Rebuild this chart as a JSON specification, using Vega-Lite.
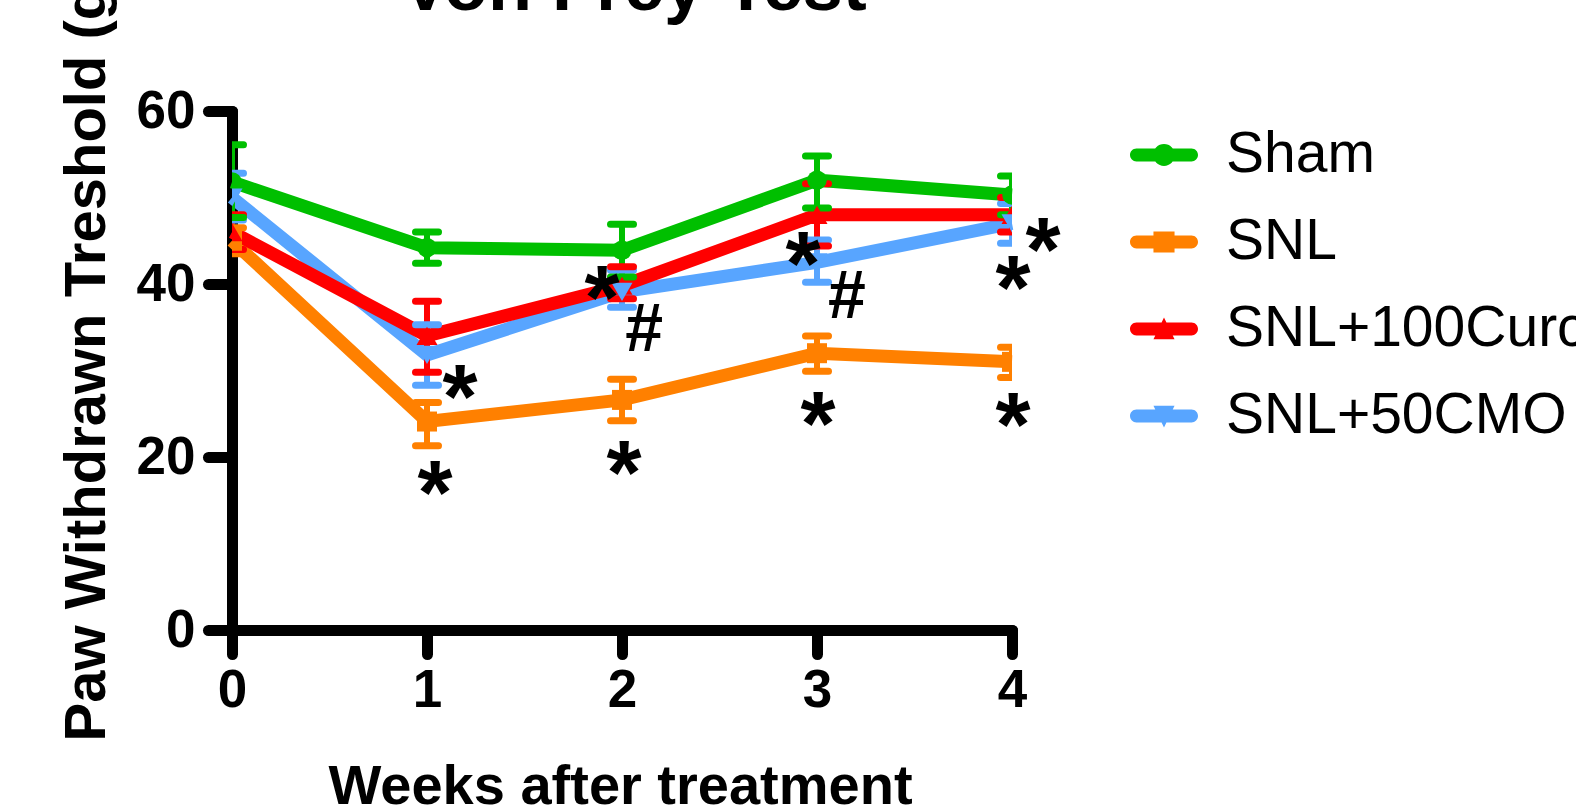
{
  "$schema": "https://vega.github.io/schema/vega-lite/v6.json",
  "width": 780,
  "height": 519,
  "autosize": {"type": "none"},
  "padding": {"left": 232, "top": 111, "right": 564, "bottom": 179},
  "background": "white",
  "title": {"text": "Von Frey Test", "fontSize": 72, "font": "Liberation Sans", "fontWeight": "bold", "anchor": "middle", "frame": "group", "color": "black", "baseline": "alphabetic", "offset": 0, "dy": 117, "dx": 12},
  "config": {
    "view": {"stroke": null},
    "axis": {
      "domainColor": "black", "domainWidth": 11, "domainCap": "round",
      "tickColor": "black", "tickWidth": 11, "tickSize": 24, "tickCap": "round",
      "labelFont": "Liberation Sans", "labelFontWeight": "bold", "labelFontSize": 53, "labelColor": "black",
      "labelFlush": false, "labelOverlap": false, "labelBound": false,
      "titleFont": "Liberation Sans", "titleFontWeight": "bold", "titleFontSize": 56, "titleColor": "black",
      "grid": false, "zindex": 1
    },
    "legend": {
      "labelFont": "Liberation Sans", "labelFontSize": 57, "labelColor": "black", "labelFontWeight": "normal",
      "labelOffset": 28, "rowPadding": 25, "padding": 0, "symbolSize": 4624,
      "symbolStrokeWidth": 0, "symbolOpacity": 1, "labelLimit": 2000
    }
  },
  "datasets": {
    "means": [
      {"group": "SNL+50CMO", "week": 0, "mean": 50.0, "lo": 47.4, "hi": 52.8},
      {"group": "SNL+50CMO", "week": 1, "mean": 31.8, "lo": 28.3, "hi": 35.3},
      {"group": "SNL+50CMO", "week": 2, "mean": 39.1, "lo": 37.3, "hi": 41.6},
      {"group": "SNL+50CMO", "week": 3, "mean": 42.5, "lo": 40.2, "hi": 45.1},
      {"group": "SNL+50CMO", "week": 4, "mean": 47.0, "lo": 44.7, "hi": 49.3},
      {"group": "SNL", "week": 0, "mean": 45.0, "lo": 43.5, "hi": 46.5},
      {"group": "SNL", "week": 1, "mean": 24.1, "lo": 21.3, "hi": 26.3},
      {"group": "SNL", "week": 2, "mean": 26.6, "lo": 24.2, "hi": 29.0},
      {"group": "SNL", "week": 3, "mean": 32.0, "lo": 29.9, "hi": 34.0},
      {"group": "SNL", "week": 4, "mean": 31.0, "lo": 29.2, "hi": 32.7},
      {"group": "SNL+100Curc", "week": 0, "mean": 46.0, "lo": 44.0, "hi": 48.0},
      {"group": "SNL+100Curc", "week": 1, "mean": 34.0, "lo": 29.8, "hi": 38.0},
      {"group": "SNL+100Curc", "week": 2, "mean": 39.8, "lo": 38.3, "hi": 42.0},
      {"group": "SNL+100Curc", "week": 3, "mean": 48.0, "lo": 44.4, "hi": 51.6},
      {"group": "SNL+100Curc", "week": 4, "mean": 48.0, "lo": 46.0, "hi": 50.0},
      {"group": "Sham", "week": 0, "mean": 51.8, "lo": 47.7, "hi": 56.1},
      {"group": "Sham", "week": 1, "mean": 44.2, "lo": 42.4, "hi": 46.0},
      {"group": "Sham", "week": 2, "mean": 43.9, "lo": 40.8, "hi": 46.9},
      {"group": "Sham", "week": 3, "mean": 52.0, "lo": 48.8, "hi": 54.8},
      {"group": "Sham", "week": 4, "mean": 50.3, "lo": 48.0, "hi": 52.5}
    ],
    "notes": [
      {"label": "*", "week": 1.041, "value": 18.3},
      {"label": "*", "week": 1.169, "value": 29.4},
      {"label": "*", "week": 1.897, "value": 40.8},
      {"label": "*", "week": 2.010, "value": 20.6},
      {"label": "*", "week": 2.928, "value": 44.7},
      {"label": "*", "week": 3.005, "value": 26.2},
      {"label": "*", "week": 4.159, "value": 46.4},
      {"label": "*", "week": 4.005, "value": 42.0},
      {"label": "*", "week": 4.005, "value": 26.1},
      {"label": "#", "week": 2.113, "value": 35.0},
      {"label": "#", "week": 3.154, "value": 38.8}
    ]
  },
  "data": {"name": "means"},
  "encoding": {
    "x": {"field": "week", "type": "quantitative", "scale": {"domain": [0, 4], "nice": false, "zero": false},
      "axis": {"values": [0, 1, 2, 3, 4], "format": "d", "title": "Weeks after treatment", "labelPadding": 10,
        "titleX": 388, "titleY": 173, "titleBaseline": "alphabetic", "titleAlign": "center"}},
    "y": {"field": "mean", "type": "quantitative", "scale": {"domain": [0, 60], "nice": false},
      "axis": {"values": [0, 20, 40, 60], "format": "d", "title": "Paw Withdrawn Treshold (g)", "labelPadding": 13,
        "titleX": -128, "titleY": 242, "titleFontSize": 58, "titleBaseline": "alphabetic", "titleAlign": "center", "titleAngle": -90}}
  },
  "layer": [
    {
      "transform": [{"filter": "false"}],
      "mark": {"type": "point", "filled": true, "opacity": 1},
      "encoding": {
        "color": {"field": "group", "type": "nominal", "scale": {"domain": ["Sham", "SNL", "SNL+100Curc", "SNL+50CMO"], "range": ["#00BF00", "#FF8000", "#FF0000", "#58A5FF"]},
          "legend": {"title": null, "orient": "none", "legendX": 898, "legendY": 10}},
        "shape": {"field": "group", "type": "nominal",
          "scale": {"domain": ["Sham", "SNL", "SNL+100Curc", "SNL+50CMO"],
            "range": [
              "M -0.81 -0.19 L 0.81 -0.19 A 0.19 0.19 0 0 1 0.81 0.19 L -0.81 0.19 A 0.19 0.19 0 0 1 -0.81 -0.19 Z M 0 -0.32 A 0.32 0.32 0 0 1 0 0.32 A 0.32 0.32 0 0 1 0 -0.32 Z",
              "M -0.81 -0.19 L 0.81 -0.19 A 0.19 0.19 0 0 1 0.81 0.19 L -0.81 0.19 A 0.19 0.19 0 0 1 -0.81 -0.19 Z M -0.31 -0.31 L 0.31 -0.31 L 0.31 0.31 L -0.31 0.31 Z",
              "M -0.81 -0.19 L 0.81 -0.19 A 0.19 0.19 0 0 1 0.81 0.19 L -0.81 0.19 A 0.19 0.19 0 0 1 -0.81 -0.19 Z M 0 -0.34 L 0.31 0.3 L -0.31 0.3 Z",
              "M -0.81 -0.19 L 0.81 -0.19 A 0.19 0.19 0 0 1 0.81 0.19 L -0.81 0.19 A 0.19 0.19 0 0 1 -0.81 -0.19 Z M -0.31 -0.3 L 0.31 -0.3 L 0 0.34 Z"
            ]},
          "legend": {"title": null, "orient": "none", "legendX": 898, "legendY": 10}}
      }
    },
    {
      "mark": {"type": "line", "strokeWidth": 13},
      "encoding": {
        "color": {"field": "group", "type": "nominal", "scale": {"domain": ["Sham", "SNL", "SNL+100Curc", "SNL+50CMO"], "range": ["#00BF00", "#FF8000", "#FF0000", "#58A5FF"]}}
      }
    },
    {
      "mark": {"type": "rule", "strokeWidth": 6, "clip": true},
      "encoding": {
        "y": {"field": "lo", "type": "quantitative", "title": "Paw Withdrawn Treshold (g)"},
        "y2": {"field": "hi"},
        "color": {"field": "group", "type": "nominal", "scale": {"domain": ["Sham", "SNL", "SNL+100Curc", "SNL+50CMO"], "range": ["#00BF00", "#FF8000", "#FF0000", "#58A5FF"]}}
      }
    },
    {
      "mark": {"type": "point", "shape": "stroke", "size": 529, "strokeWidth": 7, "strokeCap": "round", "filled": false, "opacity": 1, "clip": true},
      "encoding": {
        "y": {"field": "hi", "type": "quantitative", "title": "Paw Withdrawn Treshold (g)"},
        "color": {"field": "group", "type": "nominal", "scale": {"domain": ["Sham", "SNL", "SNL+100Curc", "SNL+50CMO"], "range": ["#00BF00", "#FF8000", "#FF0000", "#58A5FF"]}}
      }
    },
    {
      "mark": {"type": "point", "shape": "stroke", "size": 529, "strokeWidth": 7, "strokeCap": "round", "filled": false, "opacity": 1, "clip": true},
      "encoding": {
        "y": {"field": "lo", "type": "quantitative", "title": "Paw Withdrawn Treshold (g)"},
        "color": {"field": "group", "type": "nominal", "scale": {"domain": ["Sham", "SNL", "SNL+100Curc", "SNL+50CMO"], "range": ["#00BF00", "#FF8000", "#FF0000", "#58A5FF"]}}
      }
    },
    {
      "transform": [{"filter": "datum.group === 'Sham'"}],
      "mark": {"type": "point", "shape": "circle", "size": 380, "filled": true, "opacity": 1, "clip": true},
      "encoding": {"color": {"field": "group", "type": "nominal", "scale": {"domain": ["Sham", "SNL", "SNL+100Curc", "SNL+50CMO"], "range": ["#00BF00", "#FF8000", "#FF0000", "#58A5FF"]}}}
    },
    {
      "transform": [{"filter": "datum.group === 'SNL'"}],
      "mark": {"type": "point", "shape": "square", "size": 400, "filled": true, "opacity": 1, "clip": true},
      "encoding": {"color": {"field": "group", "type": "nominal", "scale": {"domain": ["Sham", "SNL", "SNL+100Curc", "SNL+50CMO"], "range": ["#00BF00", "#FF8000", "#FF0000", "#58A5FF"]}}}
    },
    {
      "transform": [{"filter": "datum.group === 'SNL+100Curc'"}],
      "mark": {"type": "point", "shape": "triangle-up", "size": 441, "filled": true, "opacity": 1, "clip": true},
      "encoding": {"color": {"field": "group", "type": "nominal", "scale": {"domain": ["Sham", "SNL", "SNL+100Curc", "SNL+50CMO"], "range": ["#00BF00", "#FF8000", "#FF0000", "#58A5FF"]}}}
    },
    {
      "transform": [{"filter": "datum.group === 'SNL+50CMO'"}],
      "mark": {"type": "point", "shape": "triangle-down", "size": 441, "filled": true, "opacity": 1, "clip": true},
      "encoding": {"color": {"field": "group", "type": "nominal", "scale": {"domain": ["Sham", "SNL", "SNL+100Curc", "SNL+50CMO"], "range": ["#00BF00", "#FF8000", "#FF0000", "#58A5FF"]}}}
    },
    {
      "data": {"name": "notes"},
      "transform": [{"filter": "datum.label === '*'"}],
      "mark": {"type": "text", "font": "Liberation Sans", "fontWeight": "bold", "fontSize": 90, "baseline": "alphabetic", "align": "center", "dy": 52, "color": "black"},
      "encoding": {
        "y": {"field": "value", "type": "quantitative", "title": "Paw Withdrawn Treshold (g)"},
        "text": {"field": "label"}
      }
    },
    {
      "data": {"name": "notes"},
      "transform": [{"filter": "datum.label === '#'"}],
      "mark": {"type": "text", "font": "Liberation Sans", "fontWeight": "bold", "fontSize": 68, "baseline": "alphabetic", "align": "center", "dy": 24, "color": "black"},
      "encoding": {
        "y": {"field": "value", "type": "quantitative", "title": "Paw Withdrawn Treshold (g)"},
        "text": {"field": "label"}
      }
    }
  ]
}
